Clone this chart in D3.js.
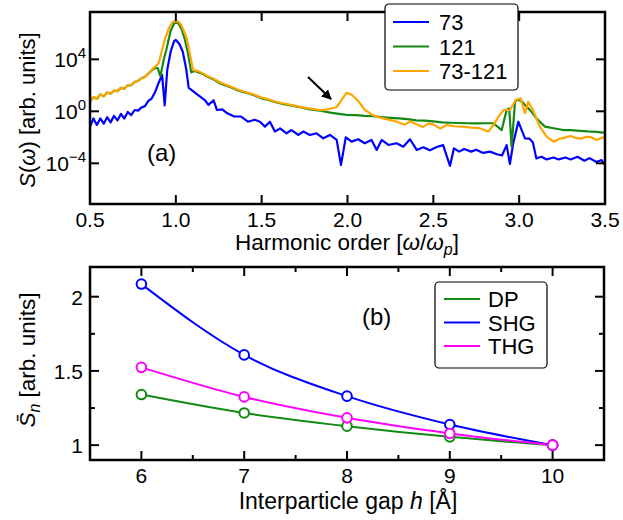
<!DOCTYPE html>
<html>
<head>
<meta charset="utf-8">
<script src="https://cdn.jsdelivr.net/npm/d3@7"></script>
<style>
  body { margin: 0; background: #fff; }
  svg { font-family: "Liberation Sans", Arial, sans-serif; }
</style>
</head>
<body>
<svg width="623" height="520"></svg>
<script>
// ---- panel (a): spectra, values are log10 S(w) ----
const x73 = [0.50,0.52,0.54,0.56,0.58,0.60,0.62,0.64,0.66,0.68,0.70,0.72,0.74,0.76,0.78,0.80,0.82,0.84,0.86,0.88,0.90,0.92,0.935,0.95,0.97,0.99,1.00,1.02,1.04,1.06,1.075,1.10,1.13,1.17,1.19,1.22,1.24,1.27,1.30,1.34,1.38,1.42,1.46,1.49,1.519,1.548,1.577,1.607,1.645,1.674,1.713,1.742,1.781,1.82,1.859,1.898,1.937,1.962,1.99,2.024,2.063,2.10,2.14,2.17,2.199,2.238,2.286,2.325,2.364,2.403,2.441,2.48,2.52,2.557,2.597,2.62,2.65,2.68,2.72,2.75,2.79,2.83,2.87,2.90,2.927,2.946,2.965,2.995,3.034,3.06,3.08,3.10,3.13,3.16,3.20,3.23,3.27,3.30,3.34,3.38,3.41,3.45,3.48,3.50];
const s73 = [-1.2,-0.55,-1.05,-0.55,-0.95,-0.45,-0.85,-0.35,-0.7,-0.2,-0.55,-0.05,-0.3,0.1,0.05,0.3,0.4,0.8,1.0,1.5,2.2,2.8,0.45,3.2,4.6,5.4,5.49,5.2,4.6,3.3,1.8,1.55,1.25,0.85,0.5,0.85,0.1,0.15,-0.15,-0.4,-0.4,-0.8,-0.65,-0.8,-1.18,-0.8,-1.56,-1.31,-1.69,-1.44,-1.82,-1.56,-1.82,-1.69,-2.08,-1.82,-2.2,-4.13,-2.0,-2.33,-2.15,-2.46,-2.2,-2.97,-2.2,-2.59,-2.46,-2.72,-2.15,-2.97,-2.77,-3.0,-2.75,-2.6,-4.2,-2.85,-3.1,-2.9,-3.1,-2.95,-3.2,-3.1,-3.3,-3.4,-2.6,-4.05,-2.5,-0.8,-2.08,-2.1,-2.4,-3.62,-3.5,-3.7,-3.55,-3.7,-3.55,-3.7,-3.5,-3.8,-3.6,-3.9,-3.75,-4.1];

const x121 = [0.50,0.52,0.54,0.56,0.58,0.60,0.62,0.64,0.66,0.68,0.70,0.72,0.74,0.76,0.78,0.80,0.82,0.84,0.86,0.88,0.895,0.91,0.93,0.945,0.97,0.99,1.00,1.015,1.032,1.051,1.071,1.09,1.11,1.13,1.16,1.19,1.22,1.265,1.30,1.33,1.362,1.40,1.43,1.459,1.50,1.537,1.587,1.63,1.684,1.73,1.781,1.84,1.90,1.95,1.995,2.05,2.10,2.15,2.20,2.25,2.30,2.35,2.40,2.45,2.50,2.55,2.60,2.65,2.70,2.75,2.80,2.85,2.898,2.927,2.942,2.956,2.976,2.995,3.02,3.043,3.07,3.10,3.15,3.20,3.257,3.30,3.355,3.40,3.45,3.49,3.50];
const s121 = [0.75,1.1,0.95,1.3,1.15,1.45,1.35,1.6,1.55,1.8,1.75,2.0,2.0,2.25,2.35,2.55,2.65,2.9,3.15,3.35,3.3,2.7,4.0,4.75,6.2,6.75,6.82,6.77,6.38,5.6,4.46,3.0,3.1,3.0,2.85,2.62,2.45,2.1,1.95,1.8,1.6,1.45,1.35,1.22,1.0,0.88,0.68,0.55,0.42,0.3,0.15,0.05,-0.1,-0.2,-0.28,-0.3,-0.35,-0.38,-0.45,-0.5,-0.55,-0.6,-0.7,-0.72,-0.78,-0.85,-0.88,-0.9,-0.92,-0.93,-0.92,-0.92,-1.44,0.1,0.23,-2.72,0.74,0.92,0.7,0.36,0.0,-0.54,-1.18,-1.3,-1.44,-1.45,-1.5,-1.55,-1.58,-1.64,-1.6];

const xMix = [0.50,0.52,0.54,0.56,0.58,0.60,0.62,0.64,0.66,0.68,0.70,0.72,0.74,0.76,0.78,0.80,0.82,0.84,0.86,0.88,0.90,0.935,0.96,0.98,0.997,1.015,1.032,1.061,1.081,1.10,1.129,1.16,1.187,1.22,1.265,1.30,1.33,1.362,1.40,1.43,1.459,1.49,1.537,1.587,1.63,1.684,1.73,1.781,1.85,1.898,1.937,1.966,1.995,2.024,2.063,2.10,2.14,2.189,2.238,2.276,2.306,2.335,2.364,2.40,2.44,2.47,2.50,2.54,2.578,2.62,2.675,2.72,2.77,2.82,2.85,2.88,2.91,2.946,2.98,3.008,3.034,3.053,3.08,3.12,3.16,3.20,3.24,3.27,3.30,3.33,3.36,3.39,3.42,3.45,3.49,3.50];
const sMix = [0.75,1.1,0.95,1.3,1.15,1.45,1.35,1.6,1.55,1.8,1.75,2.0,2.0,2.25,2.35,2.55,2.65,2.9,3.2,3.45,3.7,5.49,6.4,6.85,6.95,6.9,6.64,5.74,4.46,3.18,3.1,2.9,2.7,2.5,2.18,2.0,1.85,1.66,1.5,1.4,1.28,1.1,0.92,0.72,0.6,0.46,0.32,0.2,0.08,0.2,0.33,0.9,1.43,1.28,0.79,0.12,-0.24,-0.49,-0.64,-0.75,-0.9,-1.02,-0.77,-1.0,-1.2,-0.95,-1.0,-1.33,-1.05,-1.15,-1.18,-1.25,-1.3,-1.56,-1.05,-0.41,0.1,0.1,0.87,1.0,-0.15,0.74,0.1,-1.18,-1.95,-2.34,-2.1,-2.0,-1.9,-2.05,-2.1,-1.95,-2.0,-2.2,-2.0,-2.05];

const xTicksA = [0.5, 1.0, 1.5, 2.0, 2.5, 3.0, 3.5];
const yTicksA = [-4, 0, 4];

// ---- panel (b) ----
const gap = [6, 7, 8, 9, 10];
const dp  = [1.341, 1.217, 1.128, 1.056, 1.0];
const shg = [2.085, 1.608, 1.330, 1.139, 1.0];
const thg = [1.524, 1.325, 1.184, 1.079, 1.0];
const xTicksB = [6, 7, 8, 9, 10];
const yTicksB = [1, 1.5, 2];

const svg = d3.select("svg");

// ================= panel (a) =================
const xA = d3.scaleLinear().domain([0.5, 3.5]).range([90, 605]);
const yA = d3.scaleLog().domain([Math.pow(10, -7.13), Math.pow(10, 7.64)]).range([204, 12]);

svg.append("clipPath").attr("id", "clipA")
  .append("rect").attr("x", 90).attr("y", 12).attr("width", 515).attr("height", 192);

const lineA = d3.line()
  .x(d => xA(d[0]))
  .y(d => yA(Math.pow(10, d[1])));

const seriesA = [
  { xs: x73, ys: s73, color: "#0000ff" },
  { xs: x121, ys: s121, color: "#138a13" },
  { xs: xMix, ys: sMix, color: "#ffa500" }
];
seriesA.forEach(s => {
  svg.append("path")
    .datum(d3.zip(s.xs, s.ys))
    .attr("clip-path", "url(#clipA)")
    .attr("d", lineA)
    .attr("fill", "none")
    .attr("stroke", s.color)
    .attr("stroke-width", 2.2)
    .attr("stroke-linejoin", "round");
});

// ticks (inside, all four sides)
const gA = svg.append("g").attr("stroke", "#000").attr("stroke-width", 2);
xTicksA.forEach(t => {
  gA.append("line").attr("x1", xA(t)).attr("x2", xA(t)).attr("y1", 204).attr("y2", 195);
  gA.append("line").attr("x1", xA(t)).attr("x2", xA(t)).attr("y1", 12).attr("y2", 21);
});
yTicksA.forEach(t => {
  const y = yA(Math.pow(10, t));
  gA.append("line").attr("x1", 90).attr("x2", 99).attr("y1", y).attr("y2", y);
  gA.append("line").attr("x1", 605).attr("x2", 596).attr("y1", y).attr("y2", y);
});
svg.append("rect").attr("x", 90).attr("y", 12).attr("width", 515).attr("height", 192)
  .attr("fill", "none").attr("stroke", "#000").attr("stroke-width", 2.5);

svg.selectAll(".xtA").data(xTicksA).join("text")
  .attr("x", d => xA(d)).attr("y", 227)
  .attr("text-anchor", "middle").style("font-size", "21px")
  .text(d => d.toFixed(1));

yTicksA.forEach(t => {
  const tx = svg.append("text")
    .attr("x", 86).attr("y", yA(Math.pow(10, t)) + 8)
    .attr("text-anchor", "end").style("font-size", "21px");
  tx.append("tspan").text("10");
  tx.append("tspan").attr("dy", -9).style("font-size", "15px")
    .text(t < 0 ? "\u2212" + Math.abs(t) : t);
});

// axis titles
const xtA = svg.append("text").attr("x", 347).attr("y", 250)
  .attr("text-anchor", "middle").style("font-size", "22.5px");
xtA.append("tspan").text("Harmonic order [");
xtA.append("tspan").style("font-style", "italic").text("\u03c9");
xtA.append("tspan").text("/");
xtA.append("tspan").style("font-style", "italic").text("\u03c9");
xtA.append("tspan").attr("dy", 5).style("font-size", "16px").style("font-style", "italic").text("p");
xtA.append("tspan").attr("dy", -5).text("]");

const ytA = svg.append("text")
  .attr("transform", "translate(35,110) rotate(-90)")
  .attr("text-anchor", "middle").style("font-size", "22px");
ytA.append("tspan").style("font-style", "italic").text("S");
ytA.append("tspan").text("(");
ytA.append("tspan").style("font-style", "italic").text("\u03c9");
ytA.append("tspan").text(") [arb. units]");

svg.append("text").attr("x", 147).attr("y", 161).style("font-size", "24px").text("(a)");

// arrow
svg.append("defs").append("marker")
  .attr("id", "arrowHead").attr("viewBox", "0 0 10 10")
  .attr("refX", 9).attr("refY", 5)
  .attr("markerWidth", 5).attr("markerHeight", 5)
  .attr("orient", "auto")
  .append("path").attr("d", "M0,0L10,5L0,10Z").attr("fill", "#000");
svg.append("line")
  .attr("x1", 308).attr("y1", 77).attr("x2", 331).attr("y2", 99)
  .attr("stroke", "#000").attr("stroke-width", 2)
  .attr("marker-end", "url(#arrowHead)");

// legend (a)
const legA = svg.append("g");
legA.append("rect").attr("x", 385).attr("y", 4).attr("width", 133).attr("height", 86)
  .attr("rx", 4).attr("fill", "#fff").attr("stroke", "#000").attr("stroke-width", 1.2);
const namesA = ["73", "121", "73-121"];
namesA.forEach((n, i) => {
  const y = 22 + i * 24.5;
  legA.append("line").attr("x1", 393).attr("x2", 429).attr("y1", y).attr("y2", y)
    .attr("stroke", seriesA[i].color).attr("stroke-width", 2.2);
  legA.append("text").attr("x", 439).attr("y", y + 8).style("font-size", "22px").text(n);
});

// ================= panel (b) =================
const xB = d3.scaleLinear().domain([5.5, 10.5]).range([90, 604]);
const yB = d3.scaleLinear().domain([0.9, 2.2]).range([460, 267]);

const seriesB = [
  { name: "DP", ys: dp, color: "#138a13" },
  { name: "SHG", ys: shg, color: "#0000ff" },
  { name: "THG", ys: thg, color: "#ff00ff" }
];

const lineB = d3.line()
  .x(d => xB(d[0]))
  .y(d => yB(d[1]))
  .curve(d3.curveMonotoneX);

seriesB.forEach(s => {
  svg.append("path")
    .datum(d3.zip(gap, s.ys))
    .attr("d", lineB)
    .attr("fill", "none")
    .attr("stroke", s.color)
    .attr("stroke-width", 2);
});
seriesB.forEach(s => {
  svg.selectAll(null).data(d3.zip(gap, s.ys)).join("circle")
    .attr("cx", d => xB(d[0])).attr("cy", d => yB(d[1])).attr("r", 4.8)
    .attr("fill", "#fff").attr("stroke", s.color).attr("stroke-width", 2);
});

const gB = svg.append("g").attr("stroke", "#000").attr("stroke-width", 2);
d3.range(5.5, 10.51, 0.5).forEach(t => {
  const major = Number.isInteger(t);
  const len = major ? 9 : 5;
  gB.append("line").attr("x1", xB(t)).attr("x2", xB(t)).attr("y1", 460).attr("y2", 460 - len);
  gB.append("line").attr("x1", xB(t)).attr("x2", xB(t)).attr("y1", 267).attr("y2", 267 + len);
});
[1, 1.25, 1.5, 1.75, 2].forEach(t => {
  const major = yTicksB.includes(t);
  const len = major ? 9 : 5;
  gB.append("line").attr("x1", 90).attr("x2", 90 + len).attr("y1", yB(t)).attr("y2", yB(t));
  gB.append("line").attr("x1", 604).attr("x2", 604 - len).attr("y1", yB(t)).attr("y2", yB(t));
});
svg.append("rect").attr("x", 90).attr("y", 267).attr("width", 514).attr("height", 193)
  .attr("fill", "none").attr("stroke", "#000").attr("stroke-width", 2.5);

svg.selectAll(".xtB").data(xTicksB).join("text")
  .attr("x", d => xB(d)).attr("y", 483)
  .attr("text-anchor", "middle").style("font-size", "21px")
  .text(d => d);
svg.selectAll(".ytB").data(yTicksB).join("text")
  .attr("x", 83).attr("y", d => yB(d) + 8)
  .attr("text-anchor", "end").style("font-size", "21px")
  .text(d => d);

const xtB = svg.append("text").attr("x", 348).attr("y", 509)
  .attr("text-anchor", "middle").style("font-size", "23px");
xtB.append("tspan").text("Interparticle gap ");
xtB.append("tspan").style("font-style", "italic").text("h");
xtB.append("tspan").text(" [\u00c5]");

const ytB = svg.append("text")
  .attr("transform", "translate(35,360) rotate(-90)")
  .attr("text-anchor", "middle").style("font-size", "22.5px");
ytB.append("tspan").style("font-style", "italic").text("S\u0304");
ytB.append("tspan").attr("dy", 5).style("font-size", "16px").style("font-style", "italic").text("n");
ytB.append("tspan").attr("dy", -5).text(" [arb. units]");

svg.append("text").attr("x", 362).attr("y", 325).style("font-size", "24px").text("(b)");

// legend (b)
const legB = svg.append("g");
legB.append("rect").attr("x", 435).attr("y", 282).attr("width", 112).attr("height", 86)
  .attr("rx", 4).attr("fill", "#fff").attr("stroke", "#000").attr("stroke-width", 1.2);
seriesB.forEach((s, i) => {
  const y = 299 + i * 23.5;
  legB.append("line").attr("x1", 444).attr("x2", 480).attr("y1", y).attr("y2", y)
    .attr("stroke", s.color).attr("stroke-width", 2.2);
  legB.append("text").attr("x", 488).attr("y", y + 8).style("font-size", "22px").text(s.name);
});
</script>
</body>
</html>
